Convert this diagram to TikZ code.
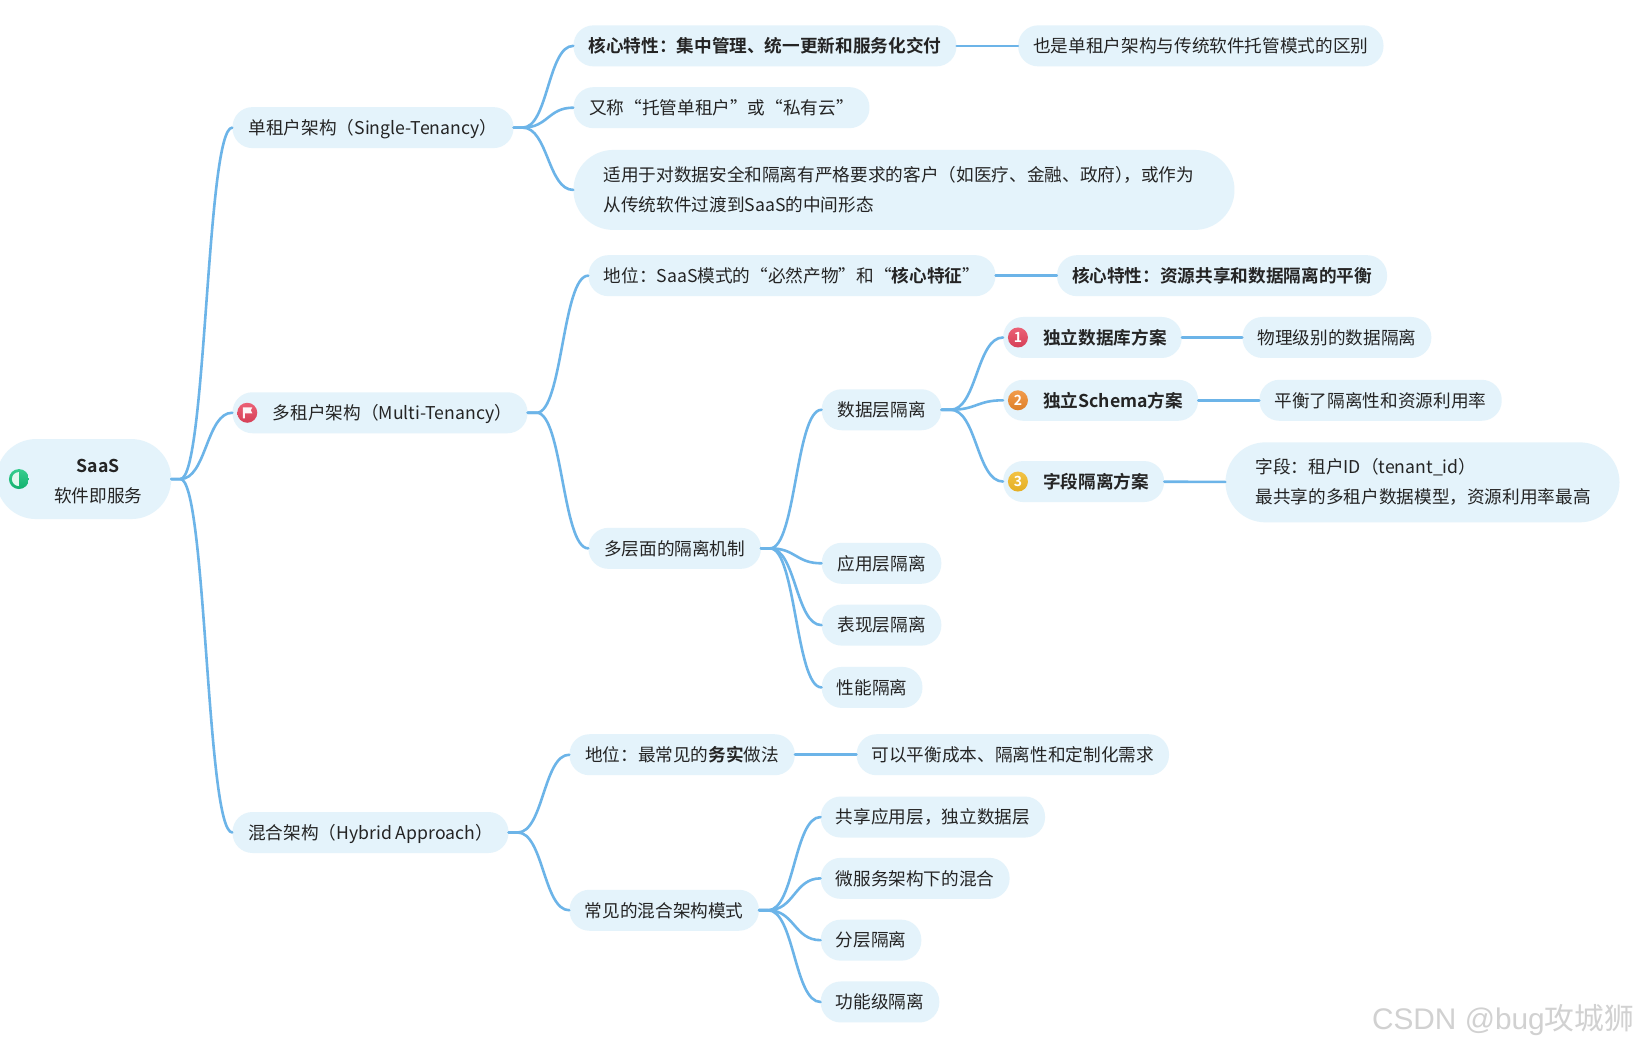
\documentclass[tikz,border=0pt]{standalone}
\usepackage{fontspec}
\setmainfont{Noto Sans CJK SC}[BoldFont={Noto Sans CJK SC Bold}]
\newfontfamily\wmlatin{Liberation Sans}
\usetikzlibrary{calc}
\definecolor{pillfill}{HTML}{E4F3FB}
\definecolor{linkcol}{HTML}{6CB4E8}
\definecolor{inkcol}{HTML}{242424}
\definecolor{badgegreen}{HTML}{14C47A}
\definecolor{badgered}{HTML}{E8455E}
\definecolor{badgeorange}{HTML}{F08A2C}
\definecolor{badgeyellow}{HTML}{F0B824}
\tikzset{
  pillbase/.style={fill=pillfill,text=inkcol,anchor=west,inner xsep=15pt,inner ysep=0pt,
    font=\fontsize{17.65}{30}\selectfont},
  pill/.style={pillbase,rounded corners=20pt,minimum height=41pt,text height=18pt,text depth=4.4pt},
  bigpill/.style={pillbase,rounded corners=39.9pt,minimum height=80pt,align=left},
  link/.style={draw=linkcol,line width=2.6pt,line cap=round,line join=round},
  badge/.style={circle,minimum size=20pt,inner sep=0pt,text=white,font=\fontsize{14}{14}\selectfont\bfseries},
  watermark/.style={text=black!18,anchor=west,inner sep=0pt}
}
\newcommand{\branch}[2]{\draw[link] (#1.east) -- ++(9,0) coordinate (st) .. controls ($(st)!.5!(st -| #2.west)$) and ($(#2.west)!.5!(st |- #2.west)$) .. (#2.west);}
\newcommand{\iconpad}{\hspace*{25pt}}
\begin{document}
\begin{tikzpicture}[x=0.997pt,y=-0.997pt]
\useasboundingbox (0,0) rectangle (1642.93,1051.15);
\clip (0,0) rectangle (1642.93,1051.15);
\fill[white] (0,0) rectangle (1642.93,1051.15);
% pills
\node[bigpill,minimum width=175pt,align=center] (root) at (-4,480.5) {\hspace*{29pt}\begin{tabular}{@{}c@{}}\rule{0pt}{26pt}\textbf{SaaS}\\软件即服务\end{tabular}};
\node[pill,minimum width=281pt] (single) at (233,128) {单租户架构（Single-Tenancy）};
\node[pill,minimum width=295pt] (multi) at (233,414) {\iconpad 多租户架构（Multi-Tenancy）};
\node[pill,minimum width=276pt] (hybrid) at (233,835) {混合架构（Hybrid Approach）};
\node[pill,minimum width=383pt] (s1) at (575,46) {\textbf{核心特性：集中管理、统一更新和服务化交付}};
\node[pill,minimum width=364pt] (s1a) at (1021,46) {也是单租户架构与传统软件托管模式的区别};
\node[pill,minimum width=296pt] (s2) at (575,108) {又称“托管单租户”或“私有云”};
\node[bigpill,inner xsep=30pt,text width=601pt] (s3) at (575,190.5) {适用于对数据安全和隔离有严格要求的客户（如医疗、金融、政府）\kern-9.4pt，或作为\\从传统软件过渡到SaaS的中间形态};
\node[pill,minimum width=407pt] (m1) at (590,276.5) {地位：SaaS模式的“必然产物”和“\textbf{核心特征}”};
\node[pill,minimum width=330pt] (m1a) at (1060,276.5) {\textbf{核心特性：资源共享和数据隔离的平衡}};
\node[pill,minimum width=172.5pt] (m2) at (590,550) {多层面的隔离机制};
\node[pill,minimum width=119.6pt] (d1) at (824,411) {数据层隔离};
\node[pill,minimum width=177.5pt] (db1) at (1006,338.5) {\iconpad\textbf{独立数据库方案}};
\node[pill,minimum width=188.5pt] (db1a) at (1246,338.5) {物理级别的数据隔离};
\node[pill,minimum width=194.4pt] (db2) at (1006,401.5) {\iconpad\textbf{独立Schema方案}};
\node[pill,minimum width=242.3pt] (db2a) at (1263,401.5) {平衡了隔离性和资源利用率};
\node[pill,minimum width=160.5pt] (db3) at (1006,483) {\iconpad\textbf{字段隔离方案}};
\node[bigpill,inner xsep=30pt,text width=334pt] (db3a) at (1229,483.8) {字段：租户ID（tenant\_id）\\最共享的多租户数据模型，资源利用率最高};
\node[pill,minimum width=119.6pt] (d2) at (824,565) {应用层隔离};
\node[pill,minimum width=119.6pt] (d3) at (824,627) {表现层隔离};
\node[pill,minimum width=100.7pt] (d4) at (824,689.5) {性能隔离};
\node[pill,minimum width=225.3pt] (h1) at (571,757) {地位：最常见的\textbf{务实}做法};
\node[pill,minimum width=312pt] (h1a) at (859,757) {可以平衡成本、隔离性和定制化需求};
\node[pill,minimum width=189.4pt] (h2) at (571,913) {常见的混合架构模式};
\node[pill,minimum width=224.3pt] (p1) at (823,819.5) {共享应用层，独立数据层};
\node[pill,minimum width=187.4pt] (p2) at (823,881) {微服务架构下的混合};
\node[pill,minimum width=99.7pt] (p3) at (823,943) {分层隔离};
\node[pill,minimum width=118.6pt] (p4) at (823,1005) {功能级隔离};
% connectors
\branch{root}{single}\branch{root}{multi}\branch{root}{hybrid}
\branch{single}{s1}\branch{single}{s2}\branch{single}{s3}
\branch{multi}{m1}\branch{multi}{m2}
\branch{hybrid}{h1}\branch{hybrid}{h2}
\branch{m2}{d1}\branch{m2}{d2}\branch{m2}{d3}\branch{m2}{d4}
\branch{d1}{db1}\branch{d1}{db2}\branch{d1}{db3}
\branch{h2}{p1}\branch{h2}{p2}\branch{h2}{p3}\branch{h2}{p4}
\draw[link] (s1) -- (s1a);
\draw[link] (m1) -- (m1a);
\draw[link] (db1) -- (db1a);
\draw[link] (db2) -- (db2a);
\draw[link] (db3) -- (db3a);
\draw[link] (h1) -- (h1a);
% icons
\node[badge,top color=badgegreen!85!white,bottom color=badgegreen!90!black] (ic0) at (19,480.5) {};
\fill[white!88!badgegreen] ([yshift=7pt]ic0.center) arc[start angle=90,end angle=270,radius=7pt] -- cycle;
\node[badge,top color=badgered!85!white,bottom color=badgered!92!black] (ic1) at (248,414) {};
\fill[white!95!badgered] ([xshift=-4.5pt,yshift=5.5pt]ic1.center) -- ++(9.5pt,0pt) -- ++(-1.5pt,-3pt) -- ++(1.5pt,-3pt) -- ++(-7.5pt,0pt) -- ++(0pt,-5pt) -- ++(-2pt,0pt) -- cycle;
\node[badge,top color=badgered!85!white,bottom color=badgered!92!black] (n1) at (1021,338.5) {1};
\node[badge,top color=badgeorange!85!white,bottom color=badgeorange!92!black] (n2) at (1021,401.5) {2};
\node[badge,top color=badgeyellow!85!white,bottom color=badgeyellow!95!black] (n3) at (1021,483) {3};
% watermark
\node[watermark] (wm) at (1376,1023) {\fontsize{29.8}{30}\selectfont{\wmlatin CSDN @bug}攻城狮};
\end{tikzpicture}
\end{document}
